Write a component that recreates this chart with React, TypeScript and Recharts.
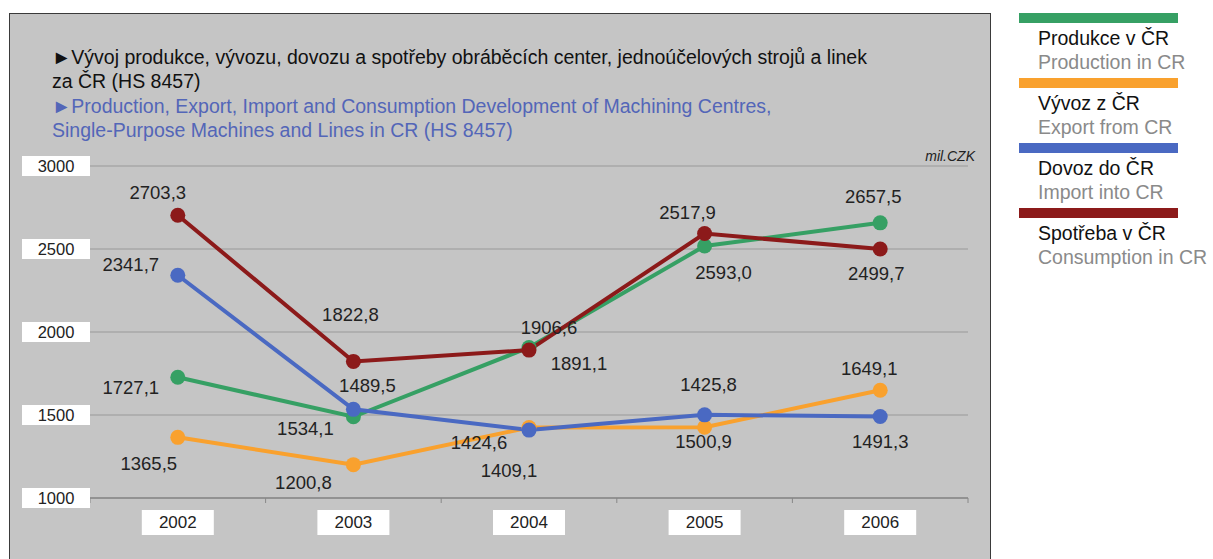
import React from 'react';
import { ComposedChart, Line, XAxis, YAxis, CartesianGrid, LabelList } from 'recharts';

const years = ['2002', '2003', '2004', '2005', '2006'];
const produkce = [1727.1, 1489.5, 1906.6, 2517.9, 2657.5];
const vyvoz = [1365.5, 1200.8, 1424.6, 1425.8, 1649.1];
const dovoz = [2341.7, 1534.1, 1409.1, 1500.9, 1491.3];
const spotreba = [2703.3, 1822.8, 1891.1, 2593.0, 2499.7];
const yTicks = [1000, 1500, 2000, 2500, 3000];

const data = years.map((year, i) => ({
    year,
    produkce: produkce[i],
    vyvoz: vyvoz[i],
    dovoz: dovoz[i],
    spotreba: spotreba[i],
}));

// where each value label sits relative to its dot (dx, dy of the text centre)
const labelOffsets: Record<string, number[][]> = {
    produkce: [[-47, 10], [14, -31], [20, -20], [-17, -34], [-7, -26]],
    vyvoz: [[-29, 26], [-50, 18], [-50, 15], [4, -43], [-11, -22]],
    dovoz: [[-47, -11], [-48, 19], [-20, 40], [-1, 27], [0, 25]],
    spotreba: [[-20, -23], [-3, -47], [50, 13], [19, 39], [-4, 24]],
};

const series = [
    { key: 'produkce', cz: 'Produkce v ČR', en: 'Production in CR', color: '#36a064' },
    { key: 'vyvoz', cz: 'Vývoz z ČR', en: 'Export from CR', color: '#f9a12e' },
    { key: 'dovoz', cz: 'Dovoz do ČR', en: 'Import into CR', color: '#4a69c2' },
    { key: 'spotreba', cz: 'Spotřeba v ČR', en: 'Consumption in CR', color: '#8c1a1a' },
];

const FONT = '"Liberation Sans", Arial, sans-serif';
const BAND = 175.6;

const fmt = (v: number) => v.toFixed(1).replace('.', ',');

const makeLabel = (key: string) => (props: any) => {
    const { x, y, value, index } = props;
    const [dx, dy] = labelOffsets[key][index] || [0, -20];
    return (
        <text x={x + dx} y={y + dy} textAnchor="middle" dominantBaseline="central"
            fontSize={18.5} fill="#222" fontFamily={FONT}>
            {fmt(value)}
        </text>
    );
};

const YTick = (props: any) => {
    const { y, payload } = props;
    return (
        <g>
            <rect x={22} y={y - 10} width={68} height={20} fill="#fff" />
            <text x={56} y={y} textAnchor="middle" dominantBaseline="central"
                fontSize={16.5} fill="#222" fontFamily={FONT}>
                {payload.value}
            </text>
        </g>
    );
};

const XTick = (props: any) => {
    const { x, y, payload, index } = props;
    return (
        <g>
            <line x1={x - BAND / 2} x2={x - BAND / 2} y1={y} y2={y + 5} stroke="#888" />
            {index === years.length - 1 && (
                <line x1={x + BAND / 2} x2={x + BAND / 2} y1={y} y2={y + 5} stroke="#888" />
            )}
            <rect x={x - 36} y={y + 12} width={72} height={25} fill="#fff" />
            <text x={x} y={y + 24.5} textAnchor="middle" dominantBaseline="central"
                fontSize={17} fill="#222" fontFamily={FONT}>
                {payload.value}
            </text>
        </g>
    );
};

export default function App() {
    return (
        <div style={{ position: 'absolute', left: 0, top: 0, width: 1213, height: 559, background: '#fff', overflow: 'hidden', fontFamily: FONT }}>
            <div style={{ position: 'absolute', left: 9, top: 13, width: 980, height: 600, background: '#c5c5c5', border: '1px solid #3a3a3a' }} />
            <div style={{ position: 'absolute', left: 52, top: 45, fontSize: 19.5, lineHeight: '24.3px', whiteSpace: 'nowrap' }}>
                <div style={{ color: '#111' }}>►Vývoj produkce, vývozu, dovozu a spotřeby obráběcích center, jednoúčelových strojů a linek</div>
                <div style={{ color: '#111' }}>za ČR (HS 8457)</div>
                <div style={{ color: '#5366b8' }}>►Production, Export, Import and Consumption Development of Machining Centres,</div>
                <div style={{ color: '#5366b8' }}>Single-Purpose Machines and Lines in CR (HS 8457)</div>
            </div>
            <div style={{ position: 'absolute', left: 900, top: 148, width: 75, textAlign: 'right', fontSize: 14, fontStyle: 'italic', color: '#222' }}>mil.CZK</div>

            <div style={{ position: 'absolute', left: 0, top: 0 }}>
                <ComposedChart width={1213} height={559} data={data}
                    margin={{ top: 166, right: 245, bottom: 21, left: 0 }}>
                    <CartesianGrid vertical={false} stroke="#9a9a9a" strokeWidth={1.2} />
                    <XAxis dataKey="year" height={40} tickSize={0} tickMargin={0}
                        padding={{ left: BAND / 2, right: BAND / 2 }}
                        axisLine={{ stroke: '#888', strokeWidth: 1.5 }} tickLine={false}
                        tick={<XTick />} interval={0} />
                    <YAxis width={90} domain={[1000, 3000]} ticks={yTicks} tickSize={0} tickMargin={0}
                        axisLine={false} tickLine={false} tick={<YTick />} interval={0} />
                    {series.map(s => (
                        <Line key={s.key} dataKey={s.key} stroke={s.color} strokeWidth={4}
                            dot={{ r: 7.5, fill: s.color, stroke: 'none' }} isAnimationActive={false}>
                            <LabelList dataKey={s.key} content={makeLabel(s.key)} />
                        </Line>
                    ))}
                </ComposedChart>
            </div>

            {series.map((s, i) => (
                <div key={s.key} style={{ position: 'absolute', left: 1019, top: 13 + i * 65, width: 200 }}>
                    <div style={{ width: 159, height: 10, background: s.color }} />
                    <div style={{ marginLeft: 19, marginTop: 4, fontSize: 19.5, lineHeight: '23.5px', color: '#111', whiteSpace: 'nowrap' }}>{s.cz}</div>
                    <div style={{ marginLeft: 19, fontSize: 19.5, lineHeight: '23.5px', color: '#8a8a8a', whiteSpace: 'nowrap' }}>{s.en}</div>
                </div>
            ))}
        </div>
    );
}
